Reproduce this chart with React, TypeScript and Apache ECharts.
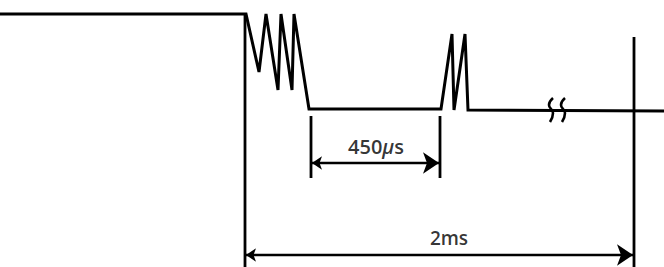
import React, { useEffect, useRef } from "react";
import * as echarts from "echarts";

// Waveform (time units along the drawing, level units downward)
const waveT = [0, 246, 259, 266, 278, 281, 292, 294, 309, 441, 452, 454, 465, 468, 664];
const waveV = [14, 14, 72, 14, 90, 14, 90, 14, 109, 109, 34, 110, 34, 110, 111];

// Vertical reference lines
const markerT = [245, 634, 311, 440];
const markerTop = [14, 37, 116, 116];
const markerBottom = [267, 267, 178, 178];

// Dimension arrows
const dimLabels = ["450μs", "2ms"];
const dimStart = [311, 245];
const dimEnd = [440, 634];
const dimLevel = [163, 255];
const dimLabelT = [376, 449];
const dimLabelLevel = [146, 238];
const dimFontSize = [20, 19];

// Break marks on the trace
const breakT = [551, 563];
const breakLevel = 111;

export default function App() {
  const ref = useRef<HTMLDivElement>(null);
  useEffect(() => {
    document.body.style.margin = "0";
    const chart = echarts.init(ref.current!, null, { renderer: "svg" });
    const black = "#000";
    const series: any[] = [];
    series.push({
      type: "line",
      data: waveT.map((t, i) => [t, waveV[i]]),
      symbol: "none",
      lineStyle: { color: black, width: 3, join: "miter" },
    });
    markerT.forEach((t, i) => {
      series.push({
        type: "line",
        data: [[t, markerTop[i]], [t, markerBottom[i]]],
        symbol: "none",
        lineStyle: { color: black, width: 2.8 },
      });
    });
    breakT.forEach((t) => {
      series.push({
        type: "line",
        smooth: 0.5,
        data: [
          [t + 2, breakLevel - 13],
          [t - 2, breakLevel - 6],
          [t + 2, breakLevel + 2],
          [t - 1, breakLevel + 11],
        ],
        symbol: "none",
        lineStyle: { color: black, width: 2.6 },
      });
    });
    series.push({
      type: "lines",
      coordinateSystem: "cartesian2d",
      polyline: false,
      symbol: ["arrow", "arrow"],
      symbolSize: [10, 16],
      lineStyle: { color: black, width: 2.4, opacity: 1 },
      itemStyle: { color: black },
      data: dimStart.map((s, i) => ({
        coords: [[s + 1, dimLevel[i]], [dimEnd[i] - 1, dimLevel[i]]],
      })),
    });
    series.push({
      type: "scatter",
      symbolSize: 0,
      data: dimLabels.map((l, i) => ({
        value: [dimLabelT[i], dimLabelLevel[i]],
        name: l,
        label: {
          show: true,
          position: "inside",
          formatter: l === "450μs" ? "{n|450}{u|μ}{n|s}" : "{n|" + l + "}",
          rich: {
            n: { fontSize: dimFontSize[i], fontFamily: "Open Sans", fontWeight: 600, color: black },
            u: { fontSize: dimFontSize[i], fontFamily: "Open Sans", fontWeight: 600, fontStyle: "italic", color: black },
          },
        },
      })),
    });
    chart.setOption({
      animation: false,
      backgroundColor: "#fff",
      grid: { left: 0, right: 0, top: 0, bottom: 0 },
      xAxis: { type: "value", min: 0, max: 664, show: false },
      yAxis: { type: "value", min: 0, max: 267, inverse: true, show: false },
      series,
    });
    return () => chart.dispose();
  }, []);
  return (
    <div
      ref={ref}
      style={{ position: "fixed", left: 0, top: 0, width: 664, height: 267 }}
    />
  );
}
